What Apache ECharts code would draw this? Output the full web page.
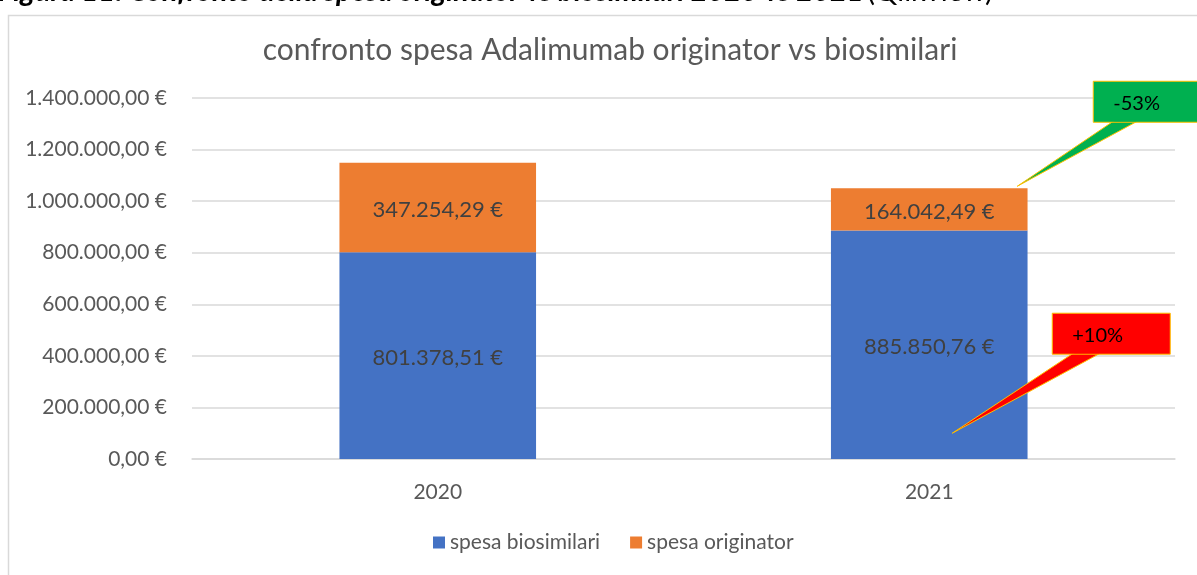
<!DOCTYPE html>
<html>
<head>
<meta charset="utf-8">
<script src="https://cdn.jsdelivr.net/npm/echarts@6/dist/echarts.min.js"></script>
<style>
	html, body { margin: 0; padding: 0; background: #fff; }
	#main { width: 1197px; height: 575px; }
</style>
</head>
<body>
<div id="main"></div>
<script type="text/javascript">
var years = ['2020', '2021'];
var spesaBiosimilari = [801378.51, 885850.76];
var spesaOriginator = [347254.29, 164042.49];
var variazioni = ['+10%', '-53%'];

var FONT = 'Lato, "Open Sans", sans-serif';

// formato italiano 1.234.567,89 €
function euro(v) {
	var parts = Number(v).toFixed(2).split('.');
	var intPart = parts[0].replace(/\B(?=(\d{3})+(?!\d))/g, '.');
	return intPart + ',' + parts[1] + ' €';
}

var myChart = echarts.init(document.getElementById('main'));
var option = {
	animation: false,
	color: ['#4472c4', '#ed7d31'],
	title: {
		text: 'confronto spesa Adalimumab originator vs biosimilari',
		left: 605, top: 30, textAlign: 'center',
		textStyle: { fontFamily: FONT, fontSize: 30, fontWeight: 'normal', color: '#595959' }
	},
	legend: {
		bottom: 17, left: 428,
		itemWidth: 12, itemHeight: 12, itemGap: 30,
		icon: 'rect',
		textStyle: { fontFamily: FONT, fontSize: 21, color: '#595959' },
		data: ['spesa biosimilari', 'spesa originator']
	},
	grid: { left: 192, right: 22, top: 98, bottom: 116 },
	xAxis: {
		type: 'category',
		data: years,
		axisLine: { lineStyle: { color: '#d9d9d9', width: 1.5 } },
		axisTick: { show: false },
		axisLabel: { fontFamily: FONT, fontSize: 21, color: '#595959', margin: 23 }
	},
	yAxis: {
		type: 'value',
		min: 0, max: 1400000, interval: 200000,
		axisLine: { show: false },
		axisTick: { show: false },
		splitLine: { lineStyle: { color: '#d9d9d9', width: 1.5 } },
		axisLabel: { fontFamily: FONT, fontSize: 21, color: '#595959', margin: 25, formatter: euro }
	},
	series: [
		{
			name: 'spesa biosimilari', type: 'bar', stack: 'spesa',
			barWidth: '40%',
			data: spesaBiosimilari,
			label: { show: true, position: 'inside', offset: [0, 2], formatter: function (p) { return euro(p.value); },
				fontFamily: FONT, fontSize: 22, color: '#404040' }
		},
		{
			name: 'spesa originator', type: 'bar', stack: 'spesa',
			data: spesaOriginator,
			label: { show: true, position: 'inside', offset: [0, 2], formatter: function (p) { return euro(p.value); },
				fontFamily: FONT, fontSize: 22, color: '#404040' }
		}
	]
};
myChart.setOption(option);

// callout (fumetti) ancorati alla barra 2021
function callout(tip, box, baseX, fill, text) {
	return [
		{ type: 'polygon', z: 10,
			shape: { points: [[baseX[0], box[1] + box[3] - 1], [baseX[1], box[1] + box[3] - 1], tip] },
			style: { fill: fill, stroke: '#ffc000', lineWidth: 1 } },
		{ type: 'rect', z: 10,
			shape: { x: box[0], y: box[1], width: box[2], height: box[3] },
			style: { fill: fill, stroke: '#ffc000', lineWidth: 1 } },
		{ type: 'polygon', z: 11,
			shape: { points: [[baseX[0] + 1, box[1] + box[3] - 1], [baseX[1] - 1, box[1] + box[3] - 1], [baseX[1] - 1, box[1] + box[3] - 3], [baseX[0] + 1, box[1] + box[3] - 3]] },
			style: { fill: fill } },
		{ type: 'text', z: 12,
			style: { text: text, x: box[0] + 20, y: box[1] + box[3] / 2 + 2, fontFamily: FONT, fontSize: 20, fill: '#000', verticalAlign: 'middle' } }
	];
}
var top2021 = myChart.convertToPixel({ seriesIndex: 0 }, [1, spesaBiosimilari[1] + spesaOriginator[1]]);
var low2021 = myChart.convertToPixel({ seriesIndex: 0 }, [1, 100000]);
var greenTip = [top2021[0] + 88, top2021[1] - 2];
var redTip = [low2021[0] + 23, low2021[1]];
var graphics = [];
graphics = graphics.concat(callout(greenTip, [greenTip[0] + 76, greenTip[1] - 105, 110, 41], [greenTip[0] + 96, greenTip[0] + 120], '#00b050', variazioni[1]));
graphics = graphics.concat(callout(redTip, [redTip[0] + 100, redTip[1] - 120, 118, 41], [redTip[0] + 121, redTip[0] + 148], '#ff0000', variazioni[0]));
// bordo del riquadro grafico e didascalia tagliata in alto
graphics.push({ type: 'rect', z: -1, shape: { x: 8.5, y: 15.5, width: 1200, height: 600 },
	style: { fill: '#fff', stroke: '#d9d9d9', lineWidth: 1.5 } });
graphics.push({ type: 'text', z: 5, style: {
	x: -2, y: 6, verticalAlign: 'bottom',
	rich: { b: { fontFamily: FONT, fontSize: 29, fontWeight: 'bold', fontStyle: 'italic', fill: '#000' },
		n: { fontFamily: FONT, fontSize: 29, fill: '#000' } },
	text: '{b|Figura 11: Confronto della spesa originator vs biosimilari 2020 vs 2021} {n|(Qlikview)}' } });
myChart.setOption({ graphic: graphics });
</script>
</body>
</html>
